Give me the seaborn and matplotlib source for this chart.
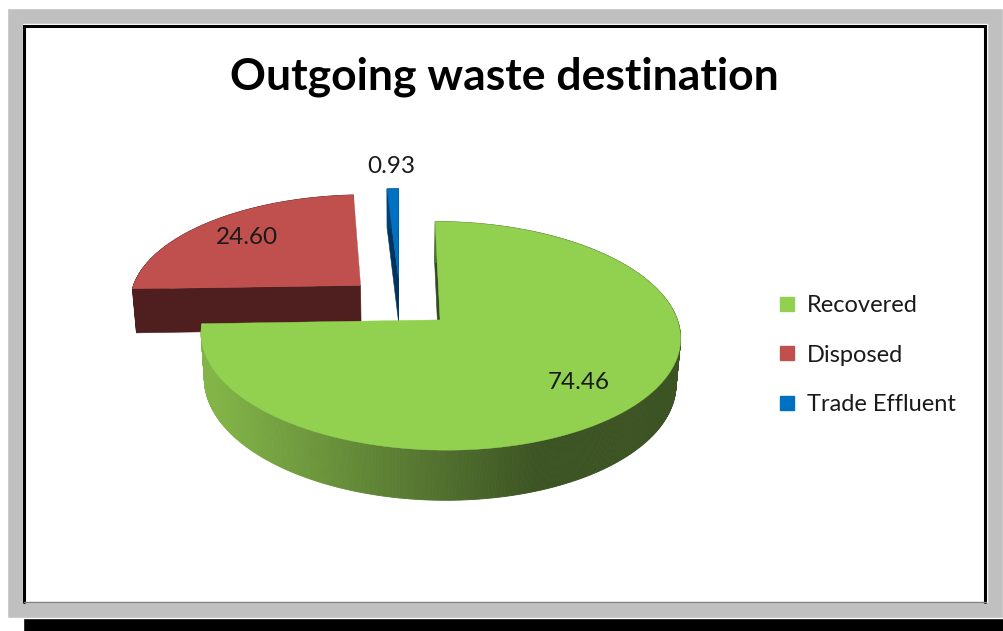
import numpy as np
import matplotlib
matplotlib.use("Agg")
import matplotlib.pyplot as plt
from matplotlib.patches import Polygon, Rectangle
from matplotlib.lines import Line2D
import seaborn as sns

# ---- data -------------------------------------------------------------
categories = ["Recovered", "Disposed", "Trade Effluent"]
values = [74.46, 24.60, 0.93]
value_labels = ["74.46", "24.60", "0.93"]
title = "Outgoing waste destination"

# ---- style ------------------------------------------------------------
sns.set_theme(style="white")
plt.rcParams["font.family"] = ["Lato", "DejaVu Sans"]

top_colors = sns.color_palette(["#92D050", "#C0504D", "#0070C0"])
cut_colors = ["#34491F", "#4F1F1F", "#003560"]
side_light = ["#82B447", "#4F1F1F", "#00508C"]
side_dark = ["#3C5323", "#4F1F1F", "#003560"]

# ---- 3-D pie projection -----------------------------------------------
ELEV = np.radians(27.5)
DIST = 6.5
SCALE = 232.0
CX, CY = 400.0, 302.0
HEIGHT = 0.22
EXPLODE = 0.235


def project(X, Y, Z):
    X, Y, Z = np.asarray(X, float), np.asarray(Y, float), np.asarray(Z, float)
    depth = DIST - (Y * np.sin(ELEV) + Z * np.cos(ELEV))
    f = DIST / depth
    up = Y * np.cos(ELEV) - Z * np.sin(ELEV)
    return CX + SCALE * X * f, CY - SCALE * up * f


cam = np.array([0.0, DIST * np.sin(ELEV), DIST * np.cos(ELEV)])


def mix(c1, c2, t):
    a = np.array(matplotlib.colors.to_rgb(c1))
    b = np.array(matplotlib.colors.to_rgb(c2))
    return tuple(a + (b - a) * t)


fig = plt.figure(figsize=(10.04, 6.31), dpi=100)
ax = fig.add_axes([0, 0, 1, 1])
ax.set_xlim(0, 1004)
ax.set_ylim(631, 0)
ax.axis("off")

# chart frame: drop shadow, grey mat, white plot panel
ax.add_patch(Rectangle((23, 24), 1000, 620, facecolor="black", zorder=0))
ax.add_patch(Rectangle((7, 8), 996, 610, facecolor="#C0C0C0", zorder=0.1))
ax.add_patch(Rectangle((23, 24), 964, 578, facecolor="white", zorder=0.2))
ax.plot([24.5, 24.5, 985.5, 985.5], [602, 25.5, 25.5, 602], color="black",
        lw=2.2, solid_joinstyle="miter", zorder=0.3)
ax.plot([24, 986], [601.5, 601.5], color="#808080", lw=1, zorder=0.3)

fracs = np.array(values) / np.sum(values)
bounds = np.concatenate([[0], np.cumsum(fracs)]) * 2 * np.pi

# draw far slices first so nearer ones overlap them
order = sorted(range(len(values)),
               key=lambda i: np.cos((bounds[i] + bounds[i + 1]) / 2),
               reverse=True)

label_pos = {}
for k, i in enumerate(order):
    t1, t2 = bounds[i], bounds[i + 1]
    mid = (t1 + t2) / 2
    ex, ez = EXPLODE * np.sin(mid), -EXPLODE * np.cos(mid)
    th = np.linspace(t1, t2, max(4, int(np.degrees(t2 - t1) * 2)))
    rx = ex + np.sin(th)
    rz = ez - np.cos(th)
    z0 = 1 + 3 * k

    # radial cut faces
    for ang, sgn in ((t1, -1), (t2, 1)):
        n = sgn * np.array([np.cos(ang), 0.0, np.sin(ang)])
        p = np.array([ex, 0.0, ez])
        if n @ (cam - p) > 0:
            px0, py0 = project([ex, ex + np.sin(ang), ex + np.sin(ang), ex],
                               [0, 0, -HEIGHT, -HEIGHT],
                               [ez, ez - np.cos(ang), ez - np.cos(ang), ez])
            ax.add_patch(Polygon(np.column_stack([px0, py0]), closed=True,
                                 facecolor=cut_colors[i], edgecolor=cut_colors[i],
                                 lw=0.4, zorder=z0))

    # curved outer wall, shaded across the width
    tx, ty = project(rx, np.zeros_like(rx), rz)
    bx, by = project(rx, -HEIGHT * np.ones_like(rx), rz)
    for j in range(len(th) - 1):
        tcol = np.clip((tx[j] - 215) / (540 - 215), 0, 1)
        col = mix(side_light[i], side_dark[i], tcol)
        quad = [(tx[j], ty[j]), (tx[j + 1], ty[j + 1]),
                (bx[j + 1], by[j + 1]), (bx[j], by[j])]
        ax.add_patch(Polygon(quad, closed=True, facecolor=col, edgecolor=col,
                             lw=0.6, zorder=z0 + 1))

    # top face
    ax0, ay0 = project([ex], [0], [ez])
    top = np.column_stack([np.concatenate([ax0, tx]), np.concatenate([ay0, ty])])
    ax.add_patch(Polygon(top, closed=True, facecolor=top_colors[i],
                         edgecolor=top_colors[i], lw=0.3, zorder=z0 + 2))

    # value label position along the slice's middle
    r = 0.74 if fracs[i] > 0.05 else 1.3
    lx, ly = project([ex + r * np.sin(mid)], [0], [ez - r * np.cos(mid)])
    label_pos[i] = (lx[0], ly[0])

for i, txt in enumerate(value_labels):
    x, y = label_pos[i]
    ax.text(x, y, txt, ha="center", va="center", fontsize=17.5,
            color="#1A1A1A", zorder=20)

ax.text(504, 77, title, ha="center", va="center", fontsize=32,
        fontweight="bold", color="black", zorder=20)

handles = [Line2D([], [], marker="s", linestyle="", markersize=9.5,
                  markerfacecolor=c, markeredgecolor=c) for c in top_colors]
leg = ax.legend(handles, categories, loc="center left",
                bbox_to_anchor=(778 / 1004, 1 - 355 / 631),
                frameon=False, fontsize=17, labelspacing=1.2,
                handlelength=0.8, handletextpad=0.42, borderpad=0,
                borderaxespad=0)
for t in leg.get_texts():
    t.set_color("#1A1A1A")

fig.savefig("out.png", dpi=100)
